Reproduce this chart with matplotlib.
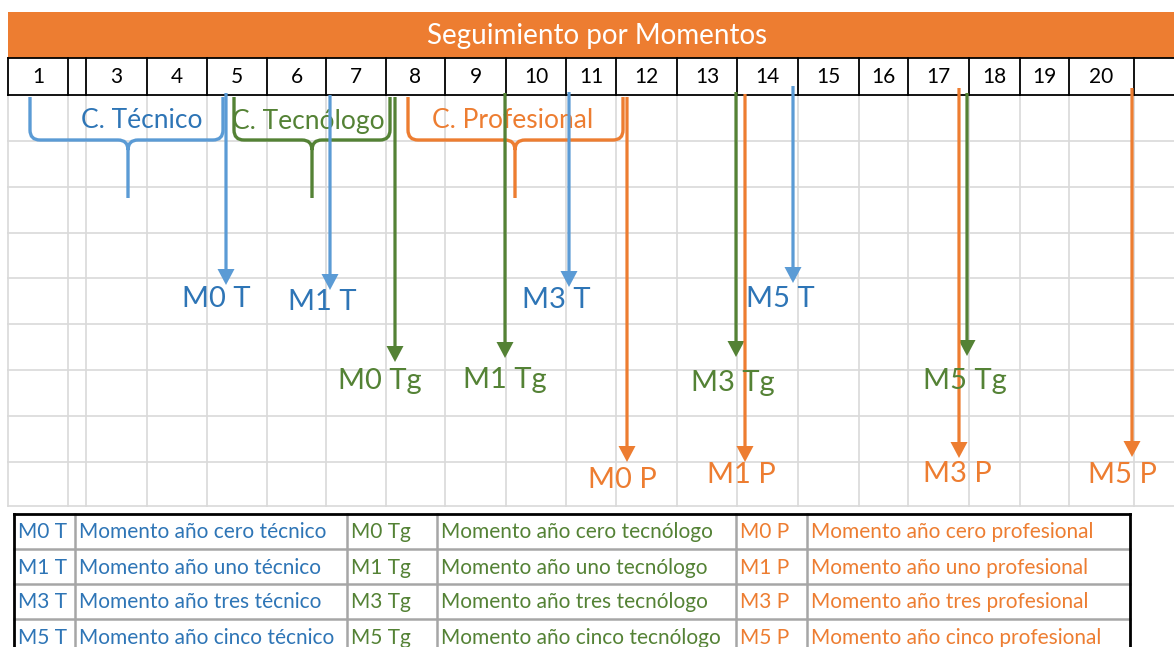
import matplotlib
matplotlib.use("Agg")
import matplotlib.pyplot as plt
from matplotlib.path import Path
from matplotlib.patches import PathPatch, FancyArrow, Rectangle

plt.rcParams["font.family"] = ["Lato", "DejaVu Sans"]

BLUE = "#5B9BD5"
BLUE_TXT = "#2E75B6"
GREEN = "#548235"
ORANGE = "#ED7D31"
GRID = "#d9d9d9"

TITLE = "Seguimiento por Momentos"

# header cells (pixel boundaries) and their labels
COL_EDGES = [8, 68, 86, 147, 207, 267, 326, 386, 445, 506, 566, 616, 677,
             737, 798, 859, 908, 969, 1020, 1069, 1134, 1174]
COL_LABELS = ["1", "", "3", "4", "5", "6", "7", "8", "9", "10", "11", "12",
              "13", "14", "15", "16", "17", "18", "19", "20", ""]
ROW_LINES = [141, 187, 233, 278, 324, 370, 416, 462, 506]

# braces: label, left x, right x, middle x, text x
BRACE_NAMES = ["C. Técnico", "C. Tecnólogo", "C. Profesional"]
BRACE_LEFT = [30, 234, 408]
BRACE_RIGHT = [223, 390, 623]
BRACE_MID = [128, 312, 515]
BRACE_TEXT_X = [142, 308, 513]
BRACE_COLORS = [BLUE, GREEN, ORANGE]
BRACE_TEXT_COLORS = [BLUE_TXT, GREEN, ORANGE]

# arrows: label, x, start y, tip y, label x, label y
ARROW_LABELS = ["M0 T", "M1 T", "M3 T", "M5 T",
                "M0 Tg", "M1 Tg", "M3 Tg", "M5 Tg",
                "M0 P", "M1 P", "M3 P", "M5 P"]
ARROW_X = [226, 330, 569, 793, 395, 505, 736, 967, 627, 745, 959, 1132]
ARROW_START = [93, 95, 92, 86, 97, 93, 92, 93, 97, 94, 88, 88]
ARROW_TIP = [285, 290, 287, 283, 362, 358, 357, 356, 462, 462, 458, 457]
LABEL_X = [216, 322, 556, 780, 380, 505, 733, 965, 622, 741, 957, 1122]
LABEL_Y = [299, 302, 300, 299, 381, 380, 383, 381, 480, 475, 474, 475]
ARROW_COLORS = [BLUE] * 4 + [GREEN] * 4 + [ORANGE] * 4
LABEL_COLORS = [BLUE_TXT] * 4 + [GREEN] * 4 + [ORANGE] * 4

# legend table
TABLE_COLS = [14, 75, 347, 437, 736, 807, 1130]
TABLE_ROWS = [514, 549, 584, 619, 654]
CODES_T = ["M0 T", "M1 T", "M3 T", "M5 T"]
DESC_T = ["Momento año cero técnico", "Momento año uno técnico",
          "Momento año tres técnico", "Momento año cinco técnico"]
CODES_TG = ["M0 Tg", "M1 Tg", "M3 Tg", "M5 Tg"]
DESC_TG = ["Momento año cero tecnólogo", "Momento año uno tecnólogo",
           "Momento año tres tecnólogo", "Momento año cinco tecnólogo"]
CODES_P = ["M0 P", "M1 P", "M3 P", "M5 P"]
DESC_P = ["Momento año cero profesional", "Momento año uno profesional",
          "Momento año tres profesional", "Momento año cinco profesional"]


def brace(ax, xl, xr, xm, color, ytop=97, ymid=140, ybot=198, r=10):
    verts = [
        (xl, ytop), (xl, ymid - r), (xl, ymid), (xl + r, ymid),
        (xm - r, ymid), (xm, ymid), (xm, ymid + r), (xm, ybot),
        (xm, ymid + r), (xm, ymid), (xm + r, ymid),
        (xr - r, ymid), (xr, ymid), (xr, ymid - r), (xr, ytop),
    ]
    codes = [Path.MOVETO, Path.LINETO, Path.CURVE3, Path.CURVE3,
             Path.LINETO, Path.CURVE3, Path.CURVE3, Path.LINETO,
             Path.MOVETO, Path.CURVE3, Path.CURVE3,
             Path.LINETO, Path.CURVE3, Path.CURVE3, Path.LINETO]
    ax.add_patch(PathPatch(Path(verts, codes), fill=False, ec=color, lw=2.4,
                           capstyle="butt", zorder=3))


fig = plt.figure(figsize=(11.74, 6.47), dpi=100)
ax = fig.add_axes([0, 0, 1, 1])
ax.set_xlim(0, 1174)
ax.set_ylim(647, 0)
ax.axis("off")

# sheet grid
for x in COL_EDGES[:-1]:
    ax.plot([x, x], [95, 506], color=GRID, lw=1.2, zorder=1)
for y in ROW_LINES:
    ax.plot([8, 1174], [y, y], color=GRID, lw=1.2, zorder=1)

# title bar
ax.add_patch(Rectangle((8, 12), 1166, 46, fc=ORANGE, ec="none", zorder=2))
ax.text(597, 36, TITLE, color="white", fontsize=20, ha="center", va="center", zorder=3)

# number row
ax.plot([8, 1174], [58, 58], color="black", lw=1.3, zorder=3)
ax.plot([8, 1174], [95, 95], color="black", lw=1.3, zorder=3)
for x in COL_EDGES[:-1]:
    ax.plot([x, x], [58, 95], color="black", lw=1.3, zorder=3)
for i, lab in enumerate(COL_LABELS):
    cx = (COL_EDGES[i] + COL_EDGES[i + 1]) / 2
    ax.text(cx, 77, lab, fontsize=15, ha="center", va="center", color="black", zorder=3)

# braces
for name, xl, xr, xm, tx, c, tc in zip(BRACE_NAMES, BRACE_LEFT, BRACE_RIGHT, BRACE_MID,
                                       BRACE_TEXT_X, BRACE_COLORS, BRACE_TEXT_COLORS):
    brace(ax, xl, xr, xm, c)
    ax.text(tx, 121, name, fontsize=19, color=tc, ha="center", va="center", zorder=3)

# arrows
for lab, x, y0, y1, lx, ly, c, tc in zip(ARROW_LABELS, ARROW_X, ARROW_START, ARROW_TIP,
                                         LABEL_X, LABEL_Y, ARROW_COLORS, LABEL_COLORS):
    ax.add_patch(FancyArrow(x, y0, 0, y1 - y0, width=3.2, head_width=17,
                            head_length=16, length_includes_head=True,
                            fc=c, ec="none", zorder=4))
    ax.text(lx, ly, lab, fontsize=21, color=tc, ha="center", va="center", zorder=5)

# legend table
col_text = [CODES_T, DESC_T, CODES_TG, DESC_TG, CODES_P, DESC_P]
col_colors = [BLUE_TXT, BLUE_TXT, GREEN, GREEN, ORANGE, ORANGE]
for x in TABLE_COLS[1:-1]:
    ax.plot([x, x], [TABLE_ROWS[0], 647], color="#a6a6a6", lw=1.8, zorder=3)
for y in TABLE_ROWS[1:-1]:
    ax.plot([TABLE_COLS[0], TABLE_COLS[-1]], [y, y], color="#a6a6a6", lw=1.8, zorder=3)
ax.plot([TABLE_COLS[0], TABLE_COLS[-1]], [TABLE_ROWS[0]] * 2, color="black", lw=2, zorder=4)
ax.plot([TABLE_COLS[0]] * 2, [TABLE_ROWS[0], 647], color="black", lw=2, zorder=4)
ax.plot([TABLE_COLS[-1]] * 2, [TABLE_ROWS[0], 647], color="black", lw=2, zorder=4)
for j, texts in enumerate(col_text):
    for i, t in enumerate(texts):
        cy = (TABLE_ROWS[i] + TABLE_ROWS[i + 1]) / 2
        ax.text(TABLE_COLS[j] + 4, cy + 1, t, fontsize=15, color=col_colors[j],
                ha="left", va="center", zorder=5)

fig.savefig("out.png", dpi=100)
